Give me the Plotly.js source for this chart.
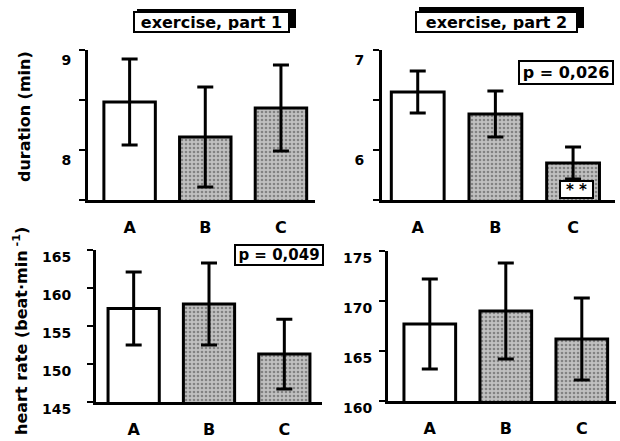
<!DOCTYPE html>
<html>
<head>
<meta charset="utf-8">
<script src="https://cdn.plot.ly/plotly-3.0.1.min.js"></script>
<style>html,body{margin:0;padding:0;background:#fff}#chart{width:620px;height:441px}</style>
</head>
<body>
<div id="chart"></div>
<script>
// ---- data ----
const categories = ['A', 'B', 'C'];
const durationPart1 = [8.48, 8.13, 8.42];
const durationPart1Err = [0.43, 0.50, 0.43];
const durationPart2 = [6.58, 6.36, 5.87];
const durationPart2Err = [0.21, 0.23, 0.16];
const heartRatePart1 = [157.3, 157.9, 151.3];
const heartRatePart1Err = [4.8, 5.4, 4.6];
const heartRatePart2 = [167.7, 169.0, 166.2];
const heartRatePart2Err = [4.5, 4.8, 4.1];
const panelTitles = ['exercise, part 1', 'exercise, part 2'];
const pLabels = ['p = 0,026', 'p = 0,049'];
const durTicks1 = [7.5, 8, 8.5, 9], durTickText1 = ['', '8', '', '9'];
const durTicks2 = [5.5, 6, 6.5, 7], durTickText2 = ['', '6', '', '7'];
const hrTicks1 = [145, 150, 155, 160, 165];
const hrTicks2 = [160, 165, 170, 175];

const fills = ['#ffffff', '#c0c0c0', '#c0c0c0'];
const shapesPat = ['', '.', '.'];

function barTrace(y, err, xa, ya) {
  return {
    type: 'bar', x: categories, y: y, xaxis: xa, yaxis: ya, width: 0.68,
    marker: {
      color: fills,
      line: {color: '#000', width: 3},
      pattern: {shape: shapesPat, fgcolor: '#555', size: 4, solidity: 0.35, fillmode: 'overlay'}
    },
    error_y: {type: 'data', array: err, visible: true, color: '#000', thickness: 3, width: 8},
    hoverinfo: 'none'
  };
}

const data = [
  barTrace(durationPart1, durationPart1Err, 'x', 'y'),
  barTrace(durationPart2, durationPart2Err, 'x2', 'y2'),
  barTrace(heartRatePart1, heartRatePart1Err, 'x3', 'y3'),
  barTrace(heartRatePart2, heartRatePart2Err, 'x4', 'y4')
];

function xAx(domain, range, anchor) {
  return {domain: domain, range: range, anchor: anchor, type: 'category', showline: true, linewidth: 3,
    linecolor: '#000', ticks: '', showgrid: false, zeroline: false, ticklabelstandoff: 11,
    tickfont: {size: 16}, fixedrange: true};
}
function yAx(domain, range, anchor, tv, tt, standoff, shift) {
  return {domain: domain, range: range, anchor: anchor, showline: true, linewidth: 3, linecolor: '#000',
    ticks: 'outside', ticklen: 6, tickwidth: 2, tickcolor: '#000', showgrid: false, zeroline: false,
    tickvals: tv, ticktext: tt, tickfont: {size: 14}, ticklabelstandoff: standoff, ticklabelshift: shift,
    fixedrange: true};
}

const W = 620, H = 441;
const px = v => v / W, py = v => 1 - v / H;
const boxed = {showarrow: false, xanchor: 'center', yanchor: 'middle', bgcolor: '#fff',
  bordercolor: '#000', borderwidth: 2, borderpad: 1};

const layout = {
  width: W, height: H, margin: {l: 0, r: 0, t: 0, b: 0},
  paper_bgcolor: '#fff', plot_bgcolor: 'rgba(0,0,0,0)', showlegend: false,
  font: {family: 'DejaVu Sans, Liberation Sans, Arial, sans-serif', size: 15, color: '#000', weight: 'bold'},
  xaxis: xAx([px(88), px(315)], [-0.55, 2.45], 'y'),
  yaxis: yAx([py(200), py(50)], [7.5, 9], 'x', durTicks1, durTickText1, 5, 10),
  xaxis2: xAx([px(382), px(615)], [-0.46, 2.54], 'y2'),
  yaxis2: yAx([py(200), py(50)], [5.5, 7], 'x2', durTicks2, durTickText2, 6, 10),
  xaxis3: xAx([px(96), px(322)], [-0.5, 2.5], 'y3'),
  yaxis3: yAx([py(402), py(250)], [145, 165], 'x3', hrTicks1, hrTicks1.map(String), 13, 7),
  xaxis4: xAx([px(388), px(616)], [-0.55, 2.45], 'y4'),
  yaxis4: yAx([py(401), py(251)], [160, 175], 'x4', hrTicks2, hrTicks2.map(String), 4, 7),
  shapes: [
    {type: 'rect', xref: 'paper', yref: 'paper', x0: px(137), x1: px(296), y0: py(28), y1: py(9),
      fillcolor: '#000', line: {width: 0}},
    {type: 'rect', xref: 'paper', yref: 'paper', x0: px(419), x1: px(584), y0: py(28), y1: py(7),
      fillcolor: '#000', line: {width: 0}}
  ],
  annotations: [
    Object.assign({}, boxed, {xref: 'paper', yref: 'paper', x: px(211.5), y: py(22.5), text: panelTitles[0],
      width: 151, height: 16, font: {size: 16}}),
    Object.assign({}, boxed, {xref: 'paper', yref: 'paper', x: px(496.5), y: py(22), text: panelTitles[1],
      width: 157, height: 16, font: {size: 16}}),
    Object.assign({}, boxed, {xref: 'paper', yref: 'paper', x: px(566), y: py(72.5), text: pLabels[0],
      width: 90, height: 19, font: {size: 16}}),
    Object.assign({}, boxed, {xref: 'paper', yref: 'paper', x: px(279), y: py(254.5), text: pLabels[1],
      width: 84, height: 16, font: {size: 15}}),
    Object.assign({}, boxed, {xref: 'x2', yref: 'y2', x: 'C', y: 5.5, yanchor: 'bottom', xshift: 3, yshift: 1,
      text: '* *', borderpad: 0, width: 31, height: 15, font: {size: 15}}),
    {xref: 'paper', yref: 'paper', x: px(24), y: py(117), xanchor: 'center', yanchor: 'middle',
      text: 'duration (min)', textangle: -90, showarrow: false, font: {size: 16}},
    {xref: 'paper', yref: 'paper', x: px(20), y: py(331), xanchor: 'center', yanchor: 'middle',
      text: 'heart rate (beat·min<sup> -1</sup>)', textangle: -90, showarrow: false, font: {size: 16}}
  ]
};

Plotly.newPlot('chart', data, layout, {staticPlot: true, displayModeBar: false});
</script>
</body>
</html>
